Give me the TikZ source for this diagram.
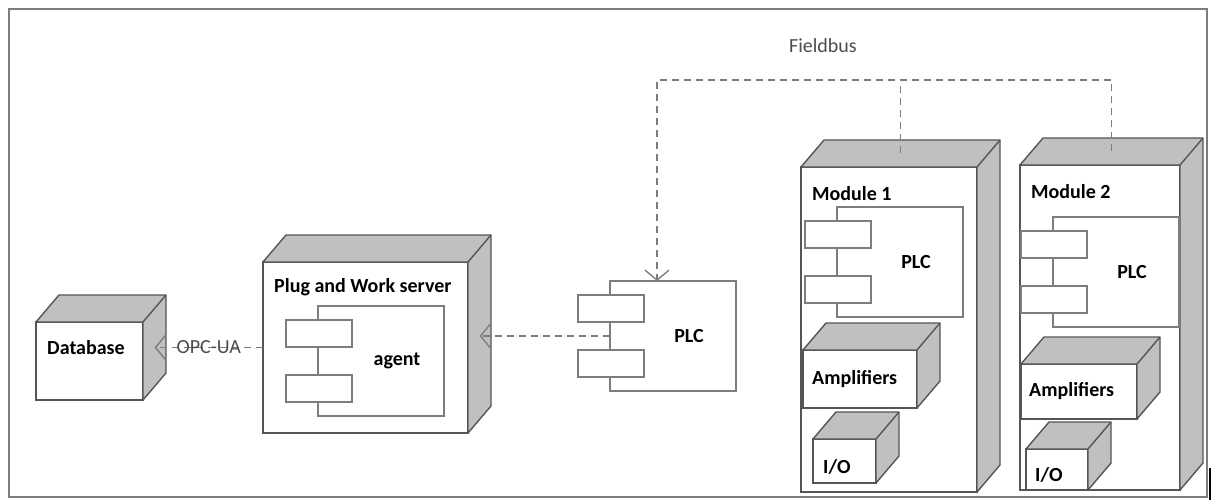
\documentclass[tikz,border=0pt]{standalone}
\usepackage{fontspec}
\setmainfont{Carlito}
\usetikzlibrary{arrows.meta}
\definecolor{facegray}{RGB}{192,192,192}
\definecolor{edgegray}{RGB}{85,85,85}
\definecolor{linegray}{RGB}{125,125,125}
\newcommand{\cube}[5]{%
\node[frontface,minimum width=#4,minimum height=#5,anchor=north west] (#1) at (#2,#3) {};
\filldraw[sideface] (#1.north west) -- ++(23,-27) -- ++(#4,0) -- ++(0,#5) -- (#1.south east) -- (#1.north east) -- cycle;
\draw[sideface] (#1.north east) -- ++(23,-27);
}
\newcommand{\comp}[4]{%
\node[partbox,anchor=north west] (#1) at (#2,#3) {};
\node[portbox,anchor=north west] (#1p1) at ([shift={(-32,14)}]#1.north west) {};
\node[portbox,anchor=north west] (#1p2) at ([shift={(-32,69)}]#1.north west) {};
\node[boxtext] (#1t) at ([xshift=79]#1.west) {#4};
}
\begin{document}
\begin{tikzpicture}[x=1pt,y=-1pt,
frontface/.style={draw=edgegray,fill=white,line width=1.4pt,inner sep=0,outer sep=0},
sideface/.style={draw=edgegray,fill=facegray,line width=1.4pt,line join=round},
partbox/.style={draw=linegray,fill=white,line width=1.2pt,minimum width=126,minimum height=110,inner sep=0,outer sep=0},
portbox/.style={draw=linegray,fill=white,line width=1.2pt,minimum width=66,minimum height=27,inner sep=0,outer sep=0},
boxtext/.style={font=\bfseries\fontsize{20}{24}\selectfont,inner sep=0},
bustext/.style={font=\fontsize{20}{24}\selectfont,text=black!70,inner sep=0},
busline/.style={draw=linegray,line width=1.4pt,dash pattern=on 7pt off 5pt},
depline/.style={busline,-{Straight Barb[length=10pt,width=24pt]}}]
\useasboundingbox (0,0) rectangle (1218,500);
\draw[linegray,line width=2.5pt] (9,9) rectangle (1207,497);
\draw[line width=2.5pt] (1210,468) -- (1210,500);
\cube{db}{36}{322}{107}{78}
\cube{srv}{263}{262}{205}{171}
\cube{m1}{801}{167}{176}{325}
\cube{m2}{1020}{165}{160}{325}
\cube{ampa}{803}{350}{114}{58}
\cube{ioa}{813}{439}{63}{44}
\cube{ampb}{1021}{364}{116}{55}
\cube{iob}{1026}{449}{62}{41}
\comp{agent}{318}{306}{agent}
\comp{plc}{610}{281}{PLC}
\comp{plca}{837}{207}{PLC}
\comp{plcb}{1053}{217}{PLC}
\node[boxtext,anchor=west] (dbl) at ([shift={(11,-13)}]db.west) {Database};
\node[boxtext,anchor=west] (srvl) at ([shift={(11,25)}]srv.north west) {Plug and Work server};
\node[boxtext,anchor=west] (m1l) at ([shift={(11,27)}]m1.north west) {Module 1};
\node[boxtext,anchor=west] (m2l) at ([shift={(11,27)}]m2.north west) {Module 2};
\node[boxtext,anchor=west] (ampal) at ([xshift=9]ampa.west) {Amplifiers};
\node[boxtext,anchor=west] (ampbl) at ([xshift=8]ampb.west) {Amplifiers};
\node[boxtext,anchor=west] (ioal) at ([shift={(10,6)}]ioa.west) {I/O};
\node[boxtext,anchor=west] (iobl) at ([shift={(9,5)}]iob.west) {I/O};
\coordinate (m1top) at ([shift={(11.5,-13.5)}]m1.north);
\coordinate (m2top) at ([shift={(11.5,-13.5)}]m2.north);
\coordinate (fb) at (657,80);
\coordinate (dbside) at ([xshift=11.5]db.east);
\coordinate (srvside) at ([xshift=11.5]srv.east);
\draw[depline] (m2top) |- (fb) -- (fb |- plc.north);
\draw[busline] (m1top) -- (m1top |- fb);
\node[bustext] (fbl) at (823,46) {Fieldbus};
\draw[depline] (plc.west) -- (plc.west -| srvside);
\draw[depline] (srv.west) -- (srv.west -| dbside) node[midway,bustext] (opc) {OPC-UA};
\end{tikzpicture}
\end{document}
